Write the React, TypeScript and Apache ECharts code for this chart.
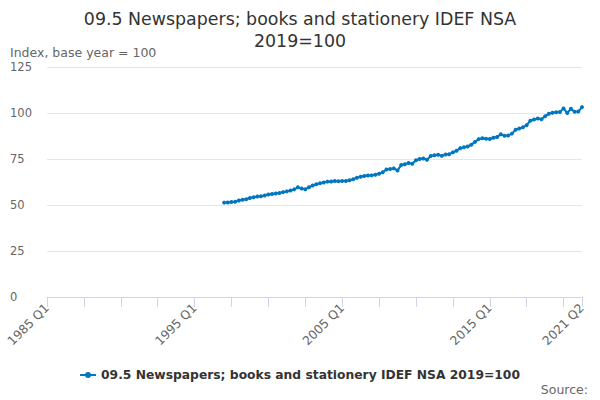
import { useEffect, useRef } from "react";
import * as echarts from "echarts";

// Quarterly categories 1985 Q1 .. 2021 Q2
const firstYear = 1985;
const lastYear = 2021;
const lastQuarter = 2;
const categories: string[] = [];
for (let y = firstYear; y <= lastYear; y++) {
  for (let q = 1; q <= 4; q++) {
    if (y === lastYear && q > lastQuarter) break;
    categories.push(`${y} Q${q}`);
  }
}

// series begins in 1997 Q1
const seriesStart = "1997 Q1";
const indexValues = [
  51.3, 51.4, 51.6, 51.8, 52.4, 52.9, 53.1, 53.8, 54.2, 54.6, 54.8, 55.2,
  55.7, 56.0, 56.2, 56.5, 57.0, 57.4, 57.9, 58.5, 59.6, 59.0, 58.6, 59.6,
  60.6, 61.3, 61.8, 62.2, 62.7, 62.8, 63.0, 62.9, 63.0, 63.1, 63.4, 64.0,
  64.8, 65.3, 65.8, 66.0, 66.1, 66.4, 67.0, 67.8, 69.3, 69.6, 69.9, 68.8,
  71.7, 72.1, 72.8, 72.4, 74.3, 75.0, 75.3, 74.6, 76.6, 77.0, 77.3, 76.7,
  77.4, 77.6, 78.6, 79.5, 80.9, 81.4, 81.8, 82.8, 84.3, 85.8, 86.3, 86.0,
  85.9, 86.6, 87.0, 88.4, 87.6, 87.8, 88.8, 90.9, 91.6, 92.2, 93.4, 95.8,
  96.5, 97.0, 96.6, 98.2, 99.6, 100.1, 100.4, 100.6, 102.5, 100.0, 102.3, 100.7,
  100.8, 103.2,
];

const seriesName = "09.5 Newspapers; books and stationery IDEF NSA 2019=100";

export default function App() {
  const ref = useRef<HTMLDivElement>(null);

  useEffect(() => {
    if (!ref.current) return;
    const chart = echarts.init(ref.current, undefined, { renderer: "svg" });
    const pad = categories.indexOf(seriesStart);
    const data = [...new Array(pad).fill(null), ...indexValues];
    const last = categories.length - 1;
    const font = "'DejaVu Sans', sans-serif";

    chart.setOption({
      animation: false,
      textStyle: { fontFamily: font },
      title: {
        text: "09.5 Newspapers; books and stationery IDEF NSA\n2019=100",
        left: "center",
        top: 3,
        textStyle: { fontSize: 17.4, fontWeight: "normal", color: "#333333", lineHeight: 22, fontFamily: font },
      },
      legend: {
        bottom: 14,
        left: "center",
        itemWidth: 16,
        itemHeight: 8,
        textStyle: { fontSize: 12.3, fontWeight: "bold", color: "#333333", fontFamily: font },
        data: [
          {
            name: seriesName,
            icon: "path://M0,3 L16,3 L16,5 L0,5 Z M8,1 A3,3 0 1,1 8,7 A3,3 0 1,1 8,1 Z",
          },
        ],
      },
      graphic: [
        {
          type: "text",
          right: 12,
          bottom: 4,
          style: { text: "Source:", fontSize: 12.5, fill: "#666666", fontFamily: font },
        },
      ],
      grid: { left: 47, right: 18, top: 67, bottom: 103 },
      xAxis: {
        type: "category",
        data: categories,
        boundaryGap: false,
        axisLine: { lineStyle: { color: "#ccd6eb" } },
        axisTick: {
          length: 10,
          lineStyle: { color: "#ccd6eb" },
          interval: (i: number) => i % 10 === 0 || i === last,
        },
        axisLabel: {
          rotate: 45,
          color: "#666666",
          fontSize: 12.3,
          margin: 9,
          interval: (i: number) => i % 40 === 0 || i === last,
        },
        splitLine: { show: false },
      },
      yAxis: {
        type: "value",
        name: "Index, base year = 100",
        nameLocation: "end",
        nameGap: 8,
        nameTextStyle: { align: "left", color: "#666666", fontSize: 12.5, padding: [0, 0, 0, -37] },
        min: 0,
        max: 125,
        interval: 25,
        axisLine: { show: false },
        axisTick: { show: false },
        axisLabel: { align: "left", margin: 37, color: "#666666", fontSize: 11.5 },
        splitLine: { lineStyle: { color: "#e6e6e6" } },
      },
      series: [
        {
          name: seriesName,
          type: "line",
          data,
          color: "#0077c0",
          lineStyle: { width: 2 },
          symbol: "circle",
          symbolSize: 4,
          showSymbol: true,
          showAllSymbol: true,
          connectNulls: false,
        },
      ],
    });

    return () => chart.dispose();
  }, []);

  return (
    <div
      ref={ref}
      style={{ position: "absolute", left: 0, top: 0, width: 600, height: 400 }}
    />
  );
}
